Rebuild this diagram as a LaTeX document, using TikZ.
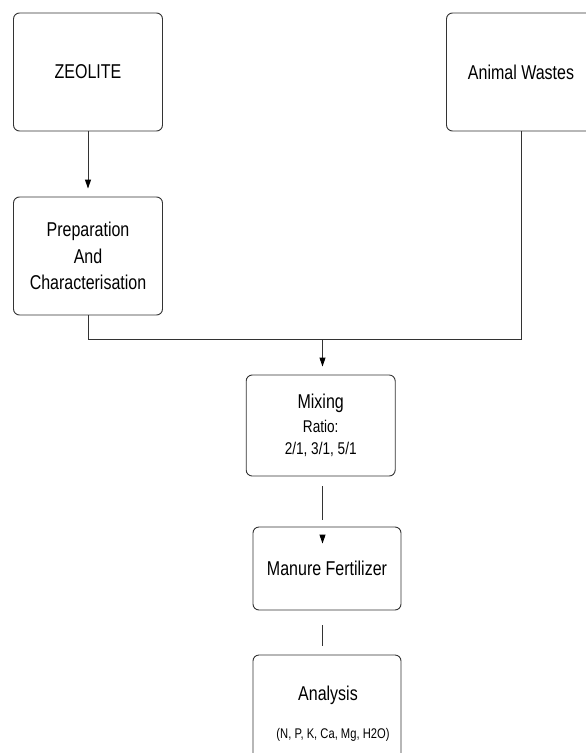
\documentclass[tikz,border=0pt]{standalone}
\usepackage{fontspec}
\setmainfont{Liberation Sans}[FakeStretch=0.8]
\usetikzlibrary{arrows.meta,calc}

\begin{document}
\begin{tikzpicture}[x=1pt,y=-1pt,
        box/.style={draw=black!80, line width=0.9pt, rounded corners=6pt, fill=white, align=center, inner sep=0pt, minimum width=149pt},
        link/.style={draw=black!80, line width=0.9pt},
        arr/.style={link, -{Triangle[width=6pt,length=9pt,black]}},
        bigtext/.style={font=\fontsize{20}{26.5}\selectfont},
        smalltext/.style={font=\fontsize{17}{22.5}\selectfont}]
            \useasboundingbox (0,0) rectangle (586,753);
            \clip (0,0) rectangle (586,753);
            \node[box, bigtext, minimum height=118pt] (zeo) at (88,72) {ZEOLITE};
            \node[box, bigtext, minimum height=118pt] (prep) at (88,256) {Preparation\\And\\Characterisation};
            \node[box, bigtext, minimum height=118pt] (waste) at (521,72) {Animal Wastes};
            \node[box, smalltext, minimum height=101pt] (mix) at (320.7,425.5) {{\fontsize{20}{24}\selectfont Mixing}\\[1pt]Ratio:\\2/1, 3/1, 5/1};
            \node[box, bigtext, minimum height=83pt, minimum width=148pt] (man) at (327,568.5) {Manure Fertilizer};
            \node[box, minimum height=130pt, minimum width=148pt] (ana) at (327,720) {};
            \node[bigtext, anchor=base] (anatitle) at (328,700) {Analysis};
            \node[font=\fontsize{14}{16}\selectfont, anchor=base] (anaparts) at (333,738) {(N, P, K, Ca, Mg, H2O)};
            \coordinate (bus) at (521,339);
            \coordinate (split) at (322.5,339);
            \draw[arr, shorten >=8pt] (zeo.south) -- (prep.north);
            \draw[link] (prep.south) |- (bus) -- (waste.south);
            \draw[arr, shorten >=8pt] (split) -- (split |- mix.north);
            \draw[link, shorten <=10pt, shorten >=7pt] (split |- mix.south) -- (split |- man.north);
            \draw[arr] ($(split |- man.north)+(0,8)$) -- ($(split |- man.north)+(0,17)$);
            \draw[link, shorten <=15pt, shorten >=9pt] (split |- man.south) -- (split |- ana.north);
        \end{tikzpicture}
\end{document}
